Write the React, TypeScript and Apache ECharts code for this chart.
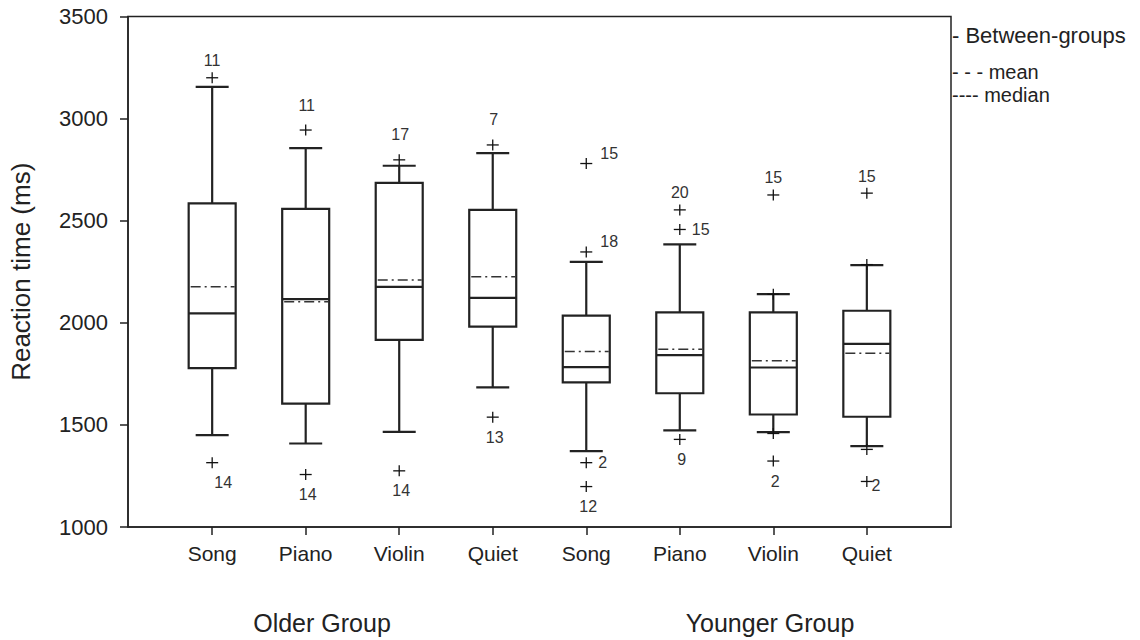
import React, { useEffect, useRef } from 'react';
import * as echarts from 'echarts';

// ---- data ----
const CATEGORIES = ['Song', 'Piano', 'Violin', 'Quiet', 'Song', 'Piano', 'Violin', 'Quiet'];
const GROUP_LABELS = ['Older Group', 'Younger Group'];
const Y_MIN = 1000;
const Y_MAX = 3500;
const Y_STEP = 500;

const WHISKER_LOW = [1450, 1409, 1466, 1684, 1372, 1473, 1465, 1396];
const Q1 = [1778, 1604, 1916, 1981, 1708, 1655, 1551, 1540];
const MEDIAN = [2046, 2116, 2176, 2122, 1783, 1842, 1781, 1897];
const Q3 = [2585, 2558, 2685, 2553, 2035, 2051, 2051, 2059];
const WHISKER_HIGH = [3155, 2855, 2769, 2831, 2298, 2384, 2140, 2282];
const MEANS = [2176, 2103, 2209, 2225, 1859, 1871, 1814, 1851];

// [category index, value, case label, label placement]
const OUTLIERS: [number, number, string, string][] = [
  [0, 3200, '11', 'top'],
  [0, 1315, '14', 'bottomRight'],
  [1, 2944, '11', 'high'],
  [1, 1257, '14', 'bottom'],
  [2, 2798, '17', 'high'],
  [2, 1275, '14', 'bottom'],
  [3, 2871, '7', 'high'],
  [3, 1538, '13', 'bottom'],
  [4, 2780, '15', 'upperRight'],
  [4, 2347, '18', 'upperRight'],
  [4, 1315, '2', 'right'],
  [4, 1198, '12', 'bottom'],
  [5, 2553, '20', 'top'],
  [5, 2457, '15', 'right'],
  [5, 1429, '9', 'bottom'],
  [6, 2626, '15', 'top'],
  [6, 2140, '', ''],
  [6, 1458, '', ''],
  [6, 1323, '2', 'bottom'],
  [7, 2635, '15', 'top'],
  [7, 2285, '', ''],
  [7, 1380, '', ''],
  [7, 1223, '2', 'sub'],
];

const LEGEND_LINES = ['- Between-groups', '- - - mean', '---- median'];

// ---- styling ----
const FONT = '"Liberation Sans", Arial, Helvetica, sans-serif';
const INK = '#222';
const PLACEMENTS: Record<string, { dx: number; dy: number; align: string }> = {
  top: { dx: 0, dy: -17, align: 'center' },
  high: { dx: 1, dy: -25, align: 'center' },
  bottom: { dx: 2, dy: 20, align: 'center' },
  bottomRight: { dx: 11, dy: 20, align: 'center' },
  right: { dx: 12, dy: 0, align: 'left' },
  upperRight: { dx: 14, dy: -10, align: 'left' },
  sub: { dx: 9, dy: 4, align: 'center' },
};
const LEGEND_Y = [35, 72, 95];
const LEGEND_SIZE = [22, 20, 20];

export default function App() {
  const ref = useRef<HTMLDivElement>(null);

  useEffect(() => {
    if (!ref.current) return;
    const chart = echarts.init(ref.current, null, { renderer: 'svg' });

    const boxData = CATEGORIES.map((_, i) => [
      i, WHISKER_LOW[i], Q1[i], MEDIAN[i], Q3[i], WHISKER_HIGH[i], MEANS[i],
    ]);
    const outlierData = OUTLIERS.map((o) => [o[0], o[1]]);
    const catIdx = CATEGORIES.map((_, i) => i);

    const renderBox = (params: any, api: any) => {
      const x = api.value(0);
      const cx = api.coord([x, Y_MIN])[0];
      const y = (k: number) => api.coord([x, api.value(k)])[1];
      const yLow = y(1), yQ1 = y(2), yMed = y(3), yQ3 = y(4), yHigh = y(5), yMean = y(6);
      const hb = 23.5, hc = 16.5;
      const solid = { stroke: INK, lineWidth: 2.2, fill: 'none' };
      return {
        type: 'group',
        children: [
          { type: 'line', shape: { x1: cx, y1: yHigh, x2: cx, y2: yQ3 }, style: solid },
          { type: 'line', shape: { x1: cx, y1: yQ1, x2: cx, y2: yLow }, style: solid },
          { type: 'line', shape: { x1: cx - hc, y1: yHigh, x2: cx + hc, y2: yHigh }, style: solid },
          { type: 'line', shape: { x1: cx - hc, y1: yLow, x2: cx + hc, y2: yLow }, style: solid },
          { type: 'rect', shape: { x: cx - hb, y: yQ3, width: hb * 2, height: yQ1 - yQ3 }, style: solid },
          { type: 'line', shape: { x1: cx - hb, y1: yMed, x2: cx + hb, y2: yMed }, style: solid },
          {
            type: 'line',
            shape: { x1: cx - hb + 2, y1: yMean, x2: cx + hb - 1, y2: yMean },
            style: { stroke: '#333', lineWidth: 1.5, lineDash: [10, 4, 2, 4] },
          },
        ],
      };
    };

    const renderOutlier = (params: any, api: any) => {
      const [cx, cy] = api.coord([api.value(0), api.value(1)]);
      const o = OUTLIERS[params.dataIndex];
      const st = { stroke: '#111', lineWidth: 1.3 };
      const children: any[] = [
        { type: 'line', shape: { x1: cx - 6, y1: cy, x2: cx + 6, y2: cy }, style: st },
        { type: 'line', shape: { x1: cx, y1: cy - 5.5, x2: cx, y2: cy + 5.5 }, style: st },
      ];
      if (o[2]) {
        const p = PLACEMENTS[o[3]];
        children.push({
          type: 'text',
          x: cx + p.dx,
          y: cy + p.dy,
          style: {
            text: o[2],
            font: `16px ${FONT}`,
            fill: '#333',
            align: p.align,
            verticalAlign: 'middle',
          },
        });
      }
      return { type: 'group', children };
    };

    const option: any = {
      animation: false,
      backgroundColor: '#fff',
      grid: {
        left: 128,
        right: 189,
        top: 16.5,
        bottom: 113,
        show: true,
        borderColor: INK,
        borderWidth: 1.5,
        backgroundColor: 'transparent',
      },
      xAxis: {
        type: 'value',
        min: -0.9,
        max: 7.9,
        splitLine: { show: false },
        axisLine: { show: true, onZero: false, lineStyle: { color: INK, width: 1.5 } },
        axisTick: { show: true, length: 8, customValues: catIdx, lineStyle: { color: INK, width: 1.5 } },
        axisLabel: {
          customValues: catIdx,
          formatter: (v: number) => CATEGORIES[Math.round(v)] ?? '',
          margin: 16,
          fontSize: 21,
          color: INK,
          fontFamily: FONT,
        },
      },
      yAxis: {
        type: 'value',
        min: Y_MIN,
        max: Y_MAX,
        interval: Y_STEP,
        name: 'Reaction time (ms)',
        nameLocation: 'middle',
        nameGap: 94,
        nameTextStyle: { fontSize: 26, color: INK, fontFamily: FONT },
        splitLine: { show: false },
        axisLine: { show: true, onZero: false, lineStyle: { color: INK, width: 1.5 } },
        axisTick: { show: true, length: 8, lineStyle: { color: INK, width: 1.5 } },
        axisLabel: {
          margin: 20,
          fontSize: 22,
          color: INK,
          fontFamily: FONT,
          formatter: (v: number) => String(v),
        },
      },
      series: [
        {
          type: 'custom',
          renderItem: renderBox,
          data: boxData,
          encode: { x: 0, y: [1, 2, 3, 4, 5, 6] },
          z: 3,
        },
        {
          type: 'custom',
          renderItem: renderOutlier,
          data: outlierData,
          encode: { x: 0, y: 1 },
          z: 4,
        },
      ],
      graphic: [
        {
          type: 'text',
          x: 322,
          y: 623,
          style: { text: GROUP_LABELS[0], font: `25px ${FONT}`, fill: INK, align: 'center', verticalAlign: 'middle' },
        },
        {
          type: 'text',
          x: 770,
          y: 623,
          style: { text: GROUP_LABELS[1], font: `25px ${FONT}`, fill: INK, align: 'center', verticalAlign: 'middle' },
        },
        ...LEGEND_LINES.map((t, i) => ({
          type: 'text',
          x: 952,
          y: LEGEND_Y[i],
          style: { text: t, font: `${LEGEND_SIZE[i]}px ${FONT}`, fill: INK, align: 'left', verticalAlign: 'middle' },
        })),
      ],
    };

    chart.setOption(option);
    return () => chart.dispose();
  }, []);

  return (
    <div
      ref={ref}
      style={{ position: 'absolute', left: 0, top: 0, width: 1140, height: 640, background: '#fff' }}
    />
  );
}
